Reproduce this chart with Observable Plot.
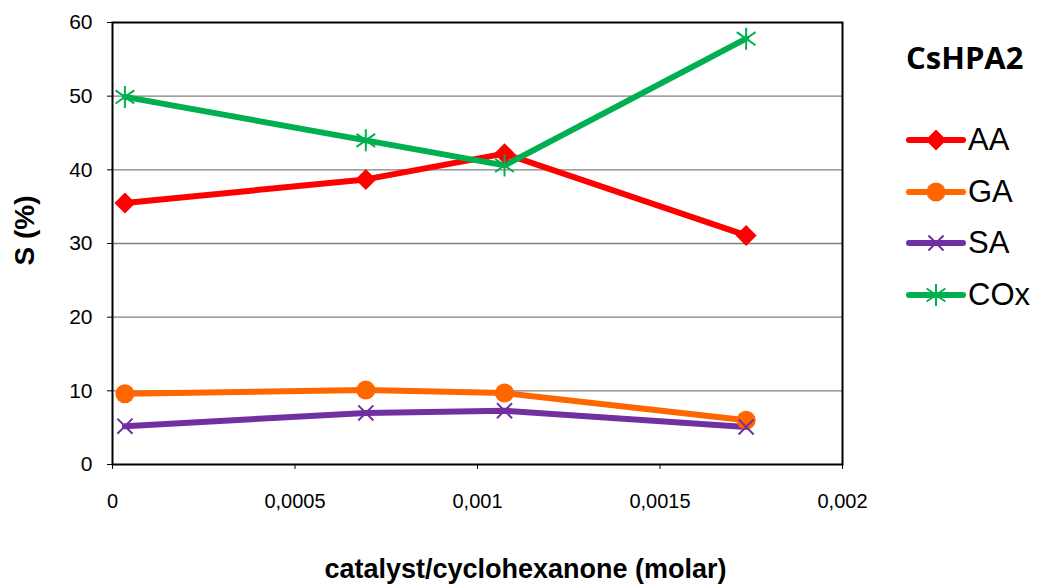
<!DOCTYPE html>
<html>
<head>
<meta charset="utf-8">
<script src="https://cdn.jsdelivr.net/npm/d3@7"></script>
<script src="https://cdn.jsdelivr.net/npm/@observablehq/plot@0.6"></script>
<style>
  body { margin: 0; background: #fff; font-family: "Liberation Sans", Arial, sans-serif; }
  #wrap { position: relative; width: 1037px; height: 585px; }
  #title { position: absolute; left: 906px; top: 37px; font: bold 31px "Open Sans", "Liberation Sans", sans-serif; color: #000; line-height: 40px; }
  .leg { position: absolute; left: 906px; height: 40px; display: flex; align-items: center; }
  .leg span { font: 31px "Liberation Sans", Arial, sans-serif; margin-left: 2px; line-height: 40px; }
</style>
</head>
<body>
<div id="wrap">
  <div id="chart"></div>
  <div id="title">CsHPA2</div>
  <div id="legend"></div>
</div>
<script>
const xValues = [0.000034, 0.000694, 0.001074, 0.001736];
const AA  = [35.5, 38.7, 42.2, 31.1];
const GA  = [9.6, 10.1, 9.7, 6.0];
const SA  = [5.2, 7.0, 7.3, 5.1];
const COx = [49.9, 44.0, 40.6, 57.8];
const seriesNames = ["AA", "GA", "SA", "COx"];
const seriesColors = ["#FF0000", "#FF6600", "#7030A0", "#00B050"];
const xTicks = [0, 0.0005, 0.001, 0.0015, 0.002];
const xTickLabels = ["0", "0,0005", "0,001", "0,0015", "0,002"];
const yTicks = [0, 10, 20, 30, 40, 50, 60];
const xTitle = "catalyst/cyclohexanone (molar)";
const yTitle = "S (%)";

const starSym = { draw(ctx, size) { const r = Math.sqrt(size / Math.PI); const d = r * 0.85;
  ctx.moveTo(0, -r); ctx.lineTo(0, r);
  ctx.moveTo(-d, -d * 0.7); ctx.lineTo(d, d * 0.7);
  ctx.moveTo(-d, d * 0.7); ctx.lineTo(d, -d * 0.7); } };
const timesSym = { draw(ctx, size) { const r = Math.sqrt(size / Math.PI); const d = r * 0.72;
  ctx.moveTo(-d, -d); ctx.lineTo(d, d); ctx.moveTo(-d, d); ctx.lineTo(d, -d); } };
const diamondSym = { draw(ctx, size) { const r = Math.sqrt(size / Math.PI);
  ctx.moveTo(0, -r); ctx.lineTo(r, 0); ctx.lineTo(0, r); ctx.lineTo(-r, 0); ctx.closePath(); } };
const circleSym = { draw(ctx, size) { const r = Math.sqrt(size / Math.PI);
  ctx.moveTo(r, 0); ctx.arc(0, 0, r, 0, 2 * Math.PI); } };

const seriesVals = [AA, GA, SA, COx];
const rows = [];
seriesNames.forEach((s, i) => xValues.forEach((x, j) => rows.push({ series: s, x, y: seriesVals[i][j] })));
const bySeries = s => rows.filter(d => d.series === s);

const markerSpec = {
  AA:  { symbol: diamondSym, r: 10.5, fill: seriesColors[0], stroke: "none" },
  GA:  { symbol: circleSym, r: 9.5, fill: seriesColors[1], stroke: "none" },
  SA:  { symbol: timesSym, r: 10.5, fill: "none", stroke: seriesColors[2], strokeWidth: 2 },
  COx: { symbol: starSym, r: 11, fill: "none", stroke: seriesColors[3], strokeWidth: 2 }
};

const marks = [
  Plot.gridY(yTicks.filter(t => t > 0 && t < 60), { stroke: "#808080", strokeOpacity: 1, strokeWidth: 1.3 }),
  Plot.frame({ stroke: "#000", strokeWidth: 2 }),
  Plot.axisX({ ticks: xTicks, tickFormat: d => xTickLabels[xTicks.indexOf(d)], tickSize: 5, tickPadding: 24,
    fontSize: 20, label: null }),
  Plot.axisY({ ticks: yTicks, tickSize: 5, tickPadding: 15, fontSize: 21, label: null }),
  Plot.text([xTitle], { frameAnchor: "bottom", dx: 48, dy: 113, fontSize: 27, fontWeight: "bold" }),
  Plot.text([yTitle], { frameAnchor: "left", dx: -87, dy: 22, rotate: -90, fontSize: 28, fontWeight: "bold" })
];
const order = ["GA", "SA", "AA", "COx"];
order.forEach(s => {
  const c = seriesColors[seriesNames.indexOf(s)];
  marks.push(Plot.line(bySeries(s), { x: "x", y: "y", stroke: c, strokeWidth: 6 }));
});
order.forEach(s => {
  const m = markerSpec[s];
  marks.push(Plot.dot(bySeries(s), { x: "x", y: "y", symbol: m.symbol, r: m.r, fill: m.fill, stroke: m.stroke, strokeWidth: m.strokeWidth || 1 }));
});

const chart = Plot.plot({
  width: 1037, height: 585,
  marginLeft: 112, marginRight: 195, marginTop: 22, marginBottom: 121,
  style: { fontFamily: "Liberation Sans, Arial, sans-serif", color: "#000", background: "#fff" },
  x: { domain: [0, 0.002] },
  y: { domain: [0, 60] },
  marks
});
document.getElementById("chart").appendChild(chart);

// Legend (HTML with small swatches)
const legendTops = [120, 172, 223, 275];
const legend = document.getElementById("legend");
seriesNames.forEach((s, i) => {
  const m = markerSpec[s];
  const div = document.createElement("div");
  div.className = "leg";
  div.style.top = legendTops[i] + "px";
  const svg = d3.create("svg").attr("width", 60).attr("height", 40);
  svg.append("line").attr("x1", 3).attr("x2", 57).attr("y1", 20).attr("y2", 20)
    .attr("stroke", seriesColors[i]).attr("stroke-width", 6).attr("stroke-linecap", "round");
  const p = d3.path();
  m.symbol.draw(p, Math.PI * m.r * m.r);
  svg.append("path").attr("transform", "translate(30,20)").attr("d", p.toString())
    .attr("fill", m.fill).attr("stroke", m.stroke).attr("stroke-width", m.strokeWidth || 1);
  div.appendChild(svg.node());
  const t = document.createElement("span");
  t.textContent = s;
  div.appendChild(t);
  legend.appendChild(div);
});
</script>
</body>
</html>
